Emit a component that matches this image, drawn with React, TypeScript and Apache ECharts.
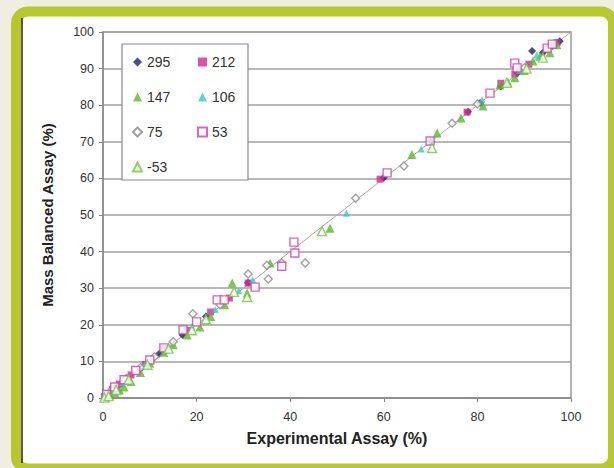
import React, { useEffect, useRef } from "react";
import * as echarts from "echarts";

const xTicks = [0, 20, 40, 60, 80, 100];
const yTicks = [0, 10, 20, 30, 40, 50, 60, 70, 80, 90, 100];

const s295 = [[0.5,0.6],[1.5,1.4],[3,3.1],[5,5.2],[8,7.9],[12,12.1],[17,17.2],[22,22.3],[31,31.5],[60,60.2],[70,70.1],[78,78.2],[80.6,80.6],[85,85.1],[88.5,88.7],[91.7,94.8],[94,94.3],[96,96.2],[97.6,97.5]];
const s212 = [[0.3,0.4],[1,1.2],[2,2.3],[3.5,3.8],[6,6.3],[9,9.2],[13,13.5],[18,18.5],[23,23.5],[27,27.3],[31,31.4],[59.2,59.8],[77.8,78.1],[85,86],[88,88.5],[91,91.2],[95,95.5],[97,97.1]];
const s147 = [[0.5,0.2],[1.5,0.8],[2.5,1.5],[3.5,2.2],[4.5,3],[6,4.5],[8,7],[10,9.5],[13,12.5],[15,14.6],[18,17.2],[20.7,19.4],[23,22.3],[26,25.5],[27.6,31.4],[30.8,28.7],[35.7,36.9],[48.5,46.4],[66,66.5],[71.4,72.4],[76.5,76.5],[81.2,79.8],[84.8,85.5],[86.5,86.3],[88,87.5],[90,89.5],[91.9,92.1],[93.4,93.4],[95.5,94.3],[97,96.5]];
const s106 = [[1,1.1],[4,4.2],[9,9.3],[14,14.2],[19,19.5],[24,24.2],[29,29.3],[32,32.3],[52,50.5],[68,68],[81,81.5],[89,89.5],[92.7,93.7],[96,96.5]];
const s75 = [[0.5,0.8],[2,2.3],[5,5.3],[8,8.3],[11,11.3],[15,15.4],[19.2,23],[25,25.5],[31,33.9],[35,36.3],[35.3,32.5],[38.2,36.9],[43.2,36.9],[54,54.6],[64.3,63.4],[74.6,75.1],[80,80.3],[90,90.2],[95,95.4]];
const s53 = [[0.8,1],[2.5,3],[4.5,5],[7,7.5],[10,10.4],[13,13.7],[17.1,18.6],[20,20.8],[24.4,26.8],[25.9,26.8],[32.5,30.3],[38.2,36],[40.8,42.6],[41,39.6],[60.7,61.5],[69.9,70.2],[82.7,83.3],[88,91.5],[88.5,90.2],[94.9,95.6],[96,96.7]];
const sNeg53 = [[0.3,0.1],[1.2,0.5],[2.8,2.2],[5.5,5],[9.5,9.1],[14,13.5],[19,18.5],[22,21.5],[28,29],[30.8,27.6],[46.8,45.6],[70.3,68.3],[86.3,86.1],[90.5,90],[94,93]];
const parityLine = [[0, 0], [100, 100]];

const seriesDefs = [
  { name: "295", data: s295, symbol: "diamond", size: 8, color: "#1d1f66", hollow: false },
  { name: "212", data: s212, symbol: "rect", size: 7, color: "#d02a97", hollow: false },
  { name: "147", data: s147, symbol: "triangle", size: 9, color: "#5fb52c", hollow: false },
  { name: "106", data: s106, symbol: "triangle", size: 7, color: "#3ec3cf", hollow: false },
  { name: "75", data: s75, symbol: "diamond", size: 8, color: "#8a8a8a", hollow: true },
  { name: "53", data: s53, symbol: "rect", size: 8, color: "#cc44aa", hollow: true },
  { name: "-53", data: sNeg53, symbol: "triangle", size: 9, color: "#74c443", hollow: true },
];

export default function App() {
  const ref = useRef<HTMLDivElement>(null);
  useEffect(() => {
    const chart = echarts.init(ref.current!, null, { renderer: "svg" });
    const font = "'Liberation Sans', Arial, sans-serif";
    const scatter = seriesDefs.map((d) => ({
      name: d.name,
      type: "scatter",
      data: d.data,
      symbol: d.symbol,
      symbolSize: d.size,
      itemStyle: d.hollow
        ? { color: "#ffffff", borderColor: d.color, borderWidth: 1.4 }
        : { color: d.color },
      z: 3,
    }));
    const legendText = { fontSize: 14, color: "#333", fontFamily: font };
    chart.setOption({
      animation: false,
      backgroundColor: "#efeee0",
      textStyle: { fontFamily: font },
      graphic: [
        {
          type: "rect",
          shape: { x: 16, y: 11.5, width: 597, height: 457, r: 12 },
          style: { fill: "#ffffff", stroke: "#b6c72f", lineWidth: 10 },
          z: -10,
          silent: true,
        },
        {
          type: "line",
          shape: { x1: 22, y1: 18, x2: 22, y2: 463 },
          style: { stroke: "#222222", lineWidth: 1.5 },
          z: -9,
          silent: true,
        },
        {
          type: "rect",
          shape: { x: 122, y: 44, width: 126, height: 136 },
          style: { fill: "#ffffff", stroke: "#8a8a8a", lineWidth: 1.2 },
          z: 50,
          silent: true,
        },
      ],
      grid: {
        left: 103,
        right: 43,
        top: 32,
        bottom: 70,
        show: true,
        borderColor: "#9a9a9a",
        borderWidth: 1.5,
        backgroundColor: "transparent",
      },
      legend: [
        {
          data: ["295", "147", "75", "-53"],
          orient: "vertical",
          left: 127,
          top: 50,
          itemWidth: 9,
          itemHeight: 9,
          itemGap: 21,
          textStyle: legendText,
          z: 60,
        },
        {
          data: ["212", "106", "53"],
          orient: "vertical",
          left: 192,
          top: 50,
          itemWidth: 9,
          itemHeight: 9,
          itemGap: 21,
          textStyle: legendText,
          z: 60,
        },
      ],
      xAxis: {
        type: "value",
        min: 0,
        max: 100,
        interval: 20,
        name: "Experimental Assay (%)",
        nameLocation: "middle",
        nameGap: 32,
        nameTextStyle: { fontSize: 16, fontWeight: "bold", color: "#222", fontFamily: font },
        axisLine: { show: true, lineStyle: { color: "#888", width: 1.5 } },
        axisTick: { show: true, length: 4, lineStyle: { color: "#888" } },
        axisLabel: { fontSize: 12.5, color: "#333", margin: 12, fontFamily: font, formatter: (v: number) => (xTicks.includes(v) ? String(v) : "") },
        splitLine: { show: false },
      },
      yAxis: {
        type: "value",
        min: 0,
        max: 100,
        interval: 10,
        name: "Mass Balanced Assay (%)",
        nameLocation: "middle",
        nameGap: 48,
        nameTextStyle: { fontSize: 15, fontWeight: "bold", color: "#222", fontFamily: font },
        axisLine: { show: true, lineStyle: { color: "#888", width: 1.5 } },
        axisTick: { show: true, length: 4, lineStyle: { color: "#888" } },
        axisLabel: { fontSize: 12.5, color: "#333", margin: 9, fontFamily: font, formatter: (v: number) => (yTicks.includes(v) ? String(v) : "") },
        splitLine: { show: true, lineStyle: { color: "#a0a0a0", width: 1.5 } },
      },
      series: [
        {
          name: "parity",
          type: "line",
          data: parityLine,
          symbol: "none",
          lineStyle: { color: "#a8a8a8", width: 1 },
          z: 2,
          silent: true,
        },
        ...scatter,
      ],
    });
    return () => chart.dispose();
  }, []);
  return (
    <div
      ref={ref}
      style={{ position: "fixed", left: 0, top: 0, width: 614, height: 468 }}
    />
  );
}
